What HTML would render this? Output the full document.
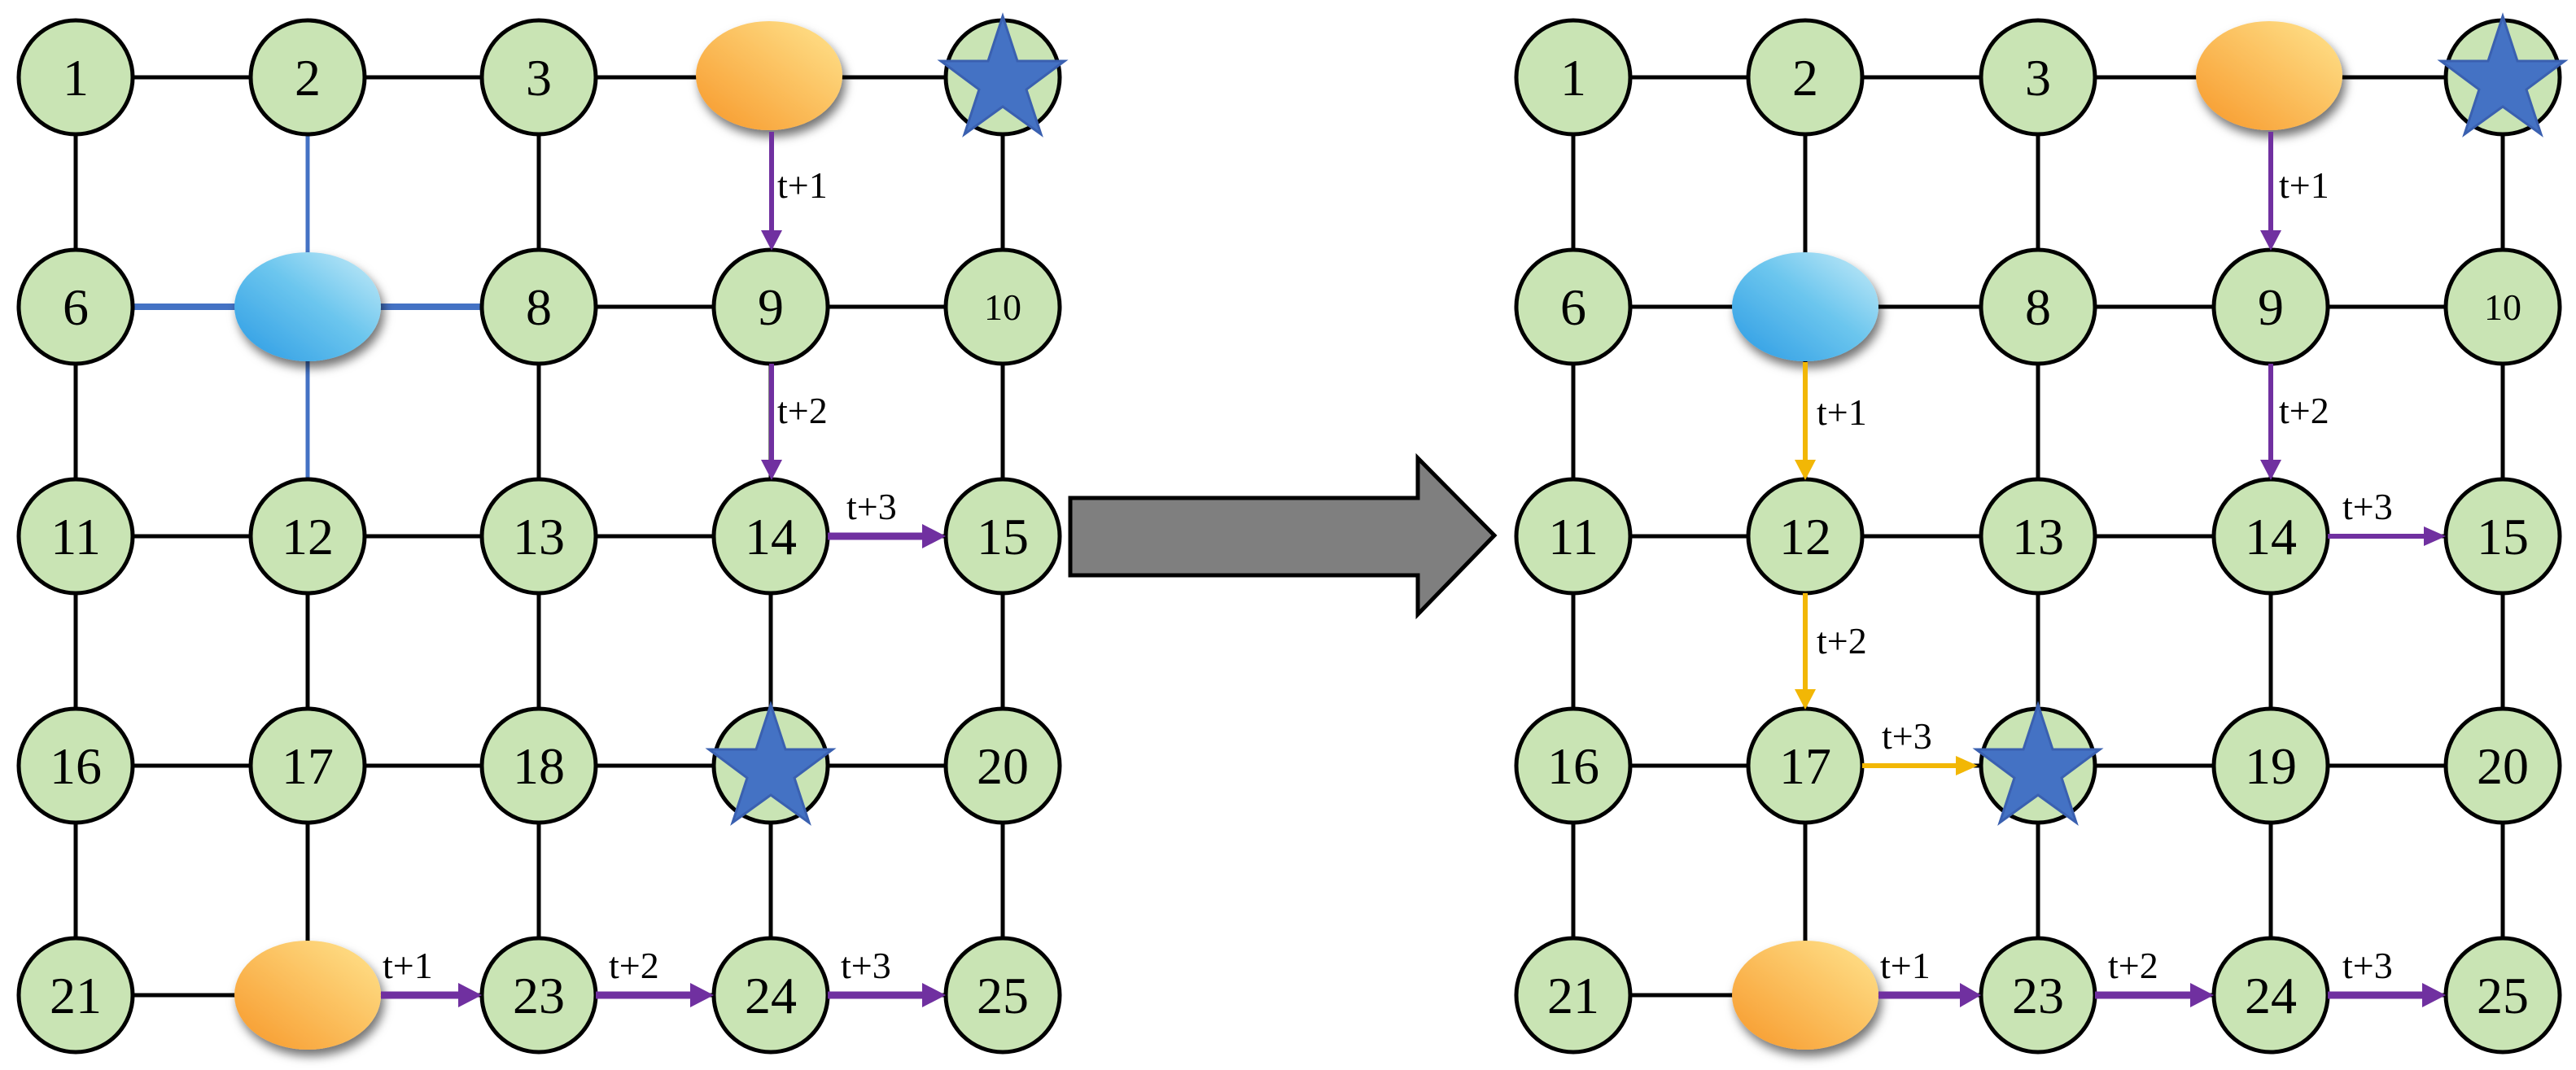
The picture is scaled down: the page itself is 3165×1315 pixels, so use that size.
<!DOCTYPE html>
<html><head><meta charset="utf-8"><style>
html,body{margin:0;padding:0;background:#fff;}
svg{display:block;}
text{font-family:"Liberation Serif",serif;fill:#000;}
.n{font-size:64px;text-anchor:middle;}
.s{font-size:46px;text-anchor:middle;}
.l{font-size:46px;}
</style></head><body>
<svg width="3165" height="1315" viewBox="0 0 3165 1315" xmlns="http://www.w3.org/2000/svg">
<defs>
<linearGradient id="og" x1="1" y1="0" x2="0" y2="1"><stop offset="0" stop-color="#ffe48e"/><stop offset="1" stop-color="#f7982a"/></linearGradient>
<linearGradient id="bg" x1="1" y1="0" x2="0" y2="1"><stop offset="0" stop-color="#c8ecf8"/><stop offset="0.45" stop-color="#6cc6ee"/><stop offset="1" stop-color="#2a9ae4"/></linearGradient>
<filter id="sh" x="-30%" y="-30%" width="160%" height="170%"><feDropShadow dx="4" dy="8" stdDeviation="6" flood-color="#000" flood-opacity="0.55"/></filter>
<g id="star"><polygon points="0,-80 18,-25 76,-25 29,10 47,65 0,31 -47,65 -29,10 -76,-25 -18,-25" fill="#4472c4" stroke="#3a60b0" stroke-width="3"/></g>
</defs>

<!-- LEFT GRAPH edges -->
<g stroke="#000" stroke-width="5" fill="none">
<line x1="93" y1="95" x2="1232" y2="95"/>
<line x1="662" y1="377" x2="1232" y2="377"/>
<line x1="93" y1="659" x2="1232" y2="659"/>
<line x1="93" y1="941" x2="1232" y2="941"/>
<line x1="93" y1="1223" x2="1232" y2="1223"/>
<line x1="93" y1="95" x2="93" y2="1223"/>
<line x1="378" y1="659" x2="378" y2="1223"/>
<line x1="662" y1="95" x2="662" y2="1223"/>
<line x1="947" y1="377" x2="947" y2="1223"/>
<line x1="1232" y1="95" x2="1232" y2="1223"/>
</g>
<g stroke="#4472c4" fill="none">
<line x1="93" y1="377" x2="662" y2="377" stroke-width="8"/>
<line x1="378" y1="95" x2="378" y2="659" stroke-width="5"/>
</g>
<!-- left nodes -->
<g fill="#c9e4b4" stroke="#000" stroke-width="5">
<circle cx="93" cy="95" r="70"/><circle cx="378" cy="95" r="70"/><circle cx="662" cy="95" r="70"/><circle cx="1232" cy="95" r="70"/>
<circle cx="93" cy="377" r="70"/><circle cx="662" cy="377" r="70"/><circle cx="947" cy="377" r="70"/><circle cx="1232" cy="377" r="70"/>
<circle cx="93" cy="659" r="70"/><circle cx="378" cy="659" r="70"/><circle cx="662" cy="659" r="70"/><circle cx="947" cy="659" r="70"/><circle cx="1232" cy="659" r="70"/>
<circle cx="93" cy="941" r="70"/><circle cx="378" cy="941" r="70"/><circle cx="662" cy="941" r="70"/><circle cx="947" cy="941" r="70"/><circle cx="1232" cy="941" r="70"/>
<circle cx="93" cy="1223" r="70"/><circle cx="662" cy="1223" r="70"/><circle cx="947" cy="1223" r="70"/><circle cx="1232" cy="1223" r="70"/>
</g>
<ellipse cx="945" cy="93" rx="90" ry="67" fill="url(#og)" filter="url(#sh)"/>
<ellipse cx="378" cy="377" rx="90" ry="67" fill="url(#bg)" filter="url(#sh)"/>
<ellipse cx="378" cy="1223" rx="90" ry="67" fill="url(#og)" filter="url(#sh)"/>
<use href="#star" x="1232" y="100"/>
<use href="#star" x="947" y="946"/>
<g class="n">
<text x="93" y="117" class="n">1</text><text x="378" y="117" class="n">2</text><text x="662" y="117" class="n">3</text>
<text x="93" y="399" class="n">6</text><text x="662" y="399" class="n">8</text><text x="947" y="399" class="n">9</text><text x="1232" y="393" class="s">10</text>
<text x="93" y="681" class="n">11</text><text x="378" y="681" class="n">12</text><text x="662" y="681" class="n">13</text><text x="947" y="681" class="n">14</text><text x="1232" y="681" class="n">15</text>
<text x="93" y="963" class="n">16</text><text x="378" y="963" class="n">17</text><text x="662" y="963" class="n">18</text><text x="1232" y="963" class="n">20</text>
<text x="93" y="1245" class="n">21</text><text x="662" y="1245" class="n">23</text><text x="947" y="1245" class="n">24</text><text x="1232" y="1245" class="n">25</text>
</g>
<!-- left purple arrows -->
<g stroke="#7030a0" fill="none">
<line x1="948" y1="162" x2="948" y2="285" stroke-width="6"/>
<line x1="948" y1="447" x2="948" y2="567" stroke-width="6"/>
<line x1="1017" y1="659" x2="1135" y2="659" stroke-width="9"/>
<line x1="468" y1="1223" x2="565" y2="1223" stroke-width="9"/>
<line x1="732" y1="1223" x2="850" y2="1223" stroke-width="9"/>
<line x1="1017" y1="1223" x2="1135" y2="1223" stroke-width="9"/>
</g>
<g fill="#7030a0">
<polygon points="935,283 961,283 948,308"/>
<polygon points="935,565 961,565 948,590"/>
<polygon points="1133,644 1162,659 1133,674"/>
<polygon points="563,1208 592,1223 563,1238"/>
<polygon points="848,1208 877,1223 848,1238"/>
<polygon points="1133,1208 1162,1223 1133,1238"/>
</g>
<text x="955" y="243" class="l">t+1</text>
<text x="955" y="520" class="l">t+2</text>
<text x="1040" y="638" class="l">t+3</text>
<text x="470" y="1202" class="l">t+1</text>
<text x="748" y="1202" class="l">t+2</text>
<text x="1033" y="1202" class="l">t+3</text>

<!-- BIG ARROW -->
<polygon points="1315,612 1742,612 1742,563 1836,658 1742,755 1742,707 1315,707" fill="#7f7f7f" stroke="#000" stroke-width="5"/>

<!-- RIGHT GRAPH edges -->
<g stroke="#000" stroke-width="5" fill="none">
<line x1="1933" y1="95" x2="3075" y2="95"/>
<line x1="1933" y1="377" x2="3075" y2="377"/>
<line x1="1933" y1="659" x2="3075" y2="659"/>
<line x1="1933" y1="941" x2="3075" y2="941"/>
<line x1="1933" y1="1223" x2="3075" y2="1223"/>
<line x1="1933" y1="95" x2="1933" y2="1223"/>
<line x1="2218" y1="95" x2="2218" y2="1223"/>
<line x1="2504" y1="95" x2="2504" y2="1223"/>
<line x1="2790" y1="377" x2="2790" y2="1223"/>
<line x1="3075" y1="95" x2="3075" y2="1223"/>
</g>
<g fill="#c9e4b4" stroke="#000" stroke-width="5">
<circle cx="1933" cy="95" r="70"/><circle cx="2218" cy="95" r="70"/><circle cx="2504" cy="95" r="70"/><circle cx="3075" cy="95" r="70"/>
<circle cx="1933" cy="377" r="70"/><circle cx="2504" cy="377" r="70"/><circle cx="2790" cy="377" r="70"/><circle cx="3075" cy="377" r="70"/>
<circle cx="1933" cy="659" r="70"/><circle cx="2218" cy="659" r="70"/><circle cx="2504" cy="659" r="70"/><circle cx="2790" cy="659" r="70"/><circle cx="3075" cy="659" r="70"/>
<circle cx="1933" cy="941" r="70"/><circle cx="2218" cy="941" r="70"/><circle cx="2504" cy="941" r="70"/><circle cx="2790" cy="941" r="70"/><circle cx="3075" cy="941" r="70"/>
<circle cx="1933" cy="1223" r="70"/><circle cx="2504" cy="1223" r="70"/><circle cx="2790" cy="1223" r="70"/><circle cx="3075" cy="1223" r="70"/>
</g>
<ellipse cx="2788" cy="93" rx="90" ry="67" fill="url(#og)" filter="url(#sh)"/>
<ellipse cx="2218" cy="377" rx="90" ry="67" fill="url(#bg)" filter="url(#sh)"/>
<ellipse cx="2218" cy="1223" rx="90" ry="67" fill="url(#og)" filter="url(#sh)"/>
<use href="#star" x="3075" y="100"/>
<use href="#star" x="2504" y="946"/>
<g>
<text x="1933" y="117" class="n">1</text><text x="2218" y="117" class="n">2</text><text x="2504" y="117" class="n">3</text>
<text x="1933" y="399" class="n">6</text><text x="2504" y="399" class="n">8</text><text x="2790" y="399" class="n">9</text><text x="3075" y="393" class="s">10</text>
<text x="1933" y="681" class="n">11</text><text x="2218" y="681" class="n">12</text><text x="2504" y="681" class="n">13</text><text x="2790" y="681" class="n">14</text><text x="3075" y="681" class="n">15</text>
<text x="1933" y="963" class="n">16</text><text x="2218" y="963" class="n">17</text><text x="2790" y="963" class="n">19</text><text x="3075" y="963" class="n">20</text>
<text x="1933" y="1245" class="n">21</text><text x="2504" y="1245" class="n">23</text><text x="2790" y="1245" class="n">24</text><text x="3075" y="1245" class="n">25</text>
</g>
<!-- yellow arrows -->
<g stroke="#f2b705" fill="none" stroke-width="6">
<line x1="2218" y1="445" x2="2218" y2="567"/>
<line x1="2218" y1="729" x2="2218" y2="849"/>
<line x1="2288" y1="941" x2="2405" y2="941"/>
</g>
<g fill="#f2b705">
<polygon points="2205,565 2231,565 2218,590"/>
<polygon points="2205,847 2231,847 2218,872"/>
<polygon points="2403,929 2430,941 2403,953"/>
</g>
<text x="2232" y="522" class="l">t+1</text>
<text x="2232" y="803" class="l">t+2</text>
<text x="2312" y="920" class="l">t+3</text>
<!-- right purple arrows -->
<g stroke="#7030a0" fill="none">
<line x1="2790" y1="162" x2="2790" y2="285" stroke-width="6"/>
<line x1="2790" y1="447" x2="2790" y2="567" stroke-width="6"/>
<line x1="2860" y1="659" x2="2980" y2="659" stroke-width="6"/>
<line x1="2308" y1="1223" x2="2410" y2="1223" stroke-width="9"/>
<line x1="2574" y1="1223" x2="2693" y2="1223" stroke-width="9"/>
<line x1="2860" y1="1223" x2="2978" y2="1223" stroke-width="9"/>
</g>
<g fill="#7030a0">
<polygon points="2777,283 2803,283 2790,308"/>
<polygon points="2777,565 2803,565 2790,590"/>
<polygon points="2978,647 3005,659 2978,671"/>
<polygon points="2408,1208 2434,1223 2408,1238"/>
<polygon points="2691,1208 2720,1223 2691,1238"/>
<polygon points="2976,1208 3005,1223 2976,1238"/>
</g>
<text x="2800" y="243" class="l">t+1</text>
<text x="2800" y="520" class="l">t+2</text>
<text x="2878" y="638" class="l">t+3</text>
<text x="2310" y="1202" class="l">t+1</text>
<text x="2590" y="1202" class="l">t+2</text>
<text x="2878" y="1202" class="l">t+3</text>
</svg>
</body></html>
